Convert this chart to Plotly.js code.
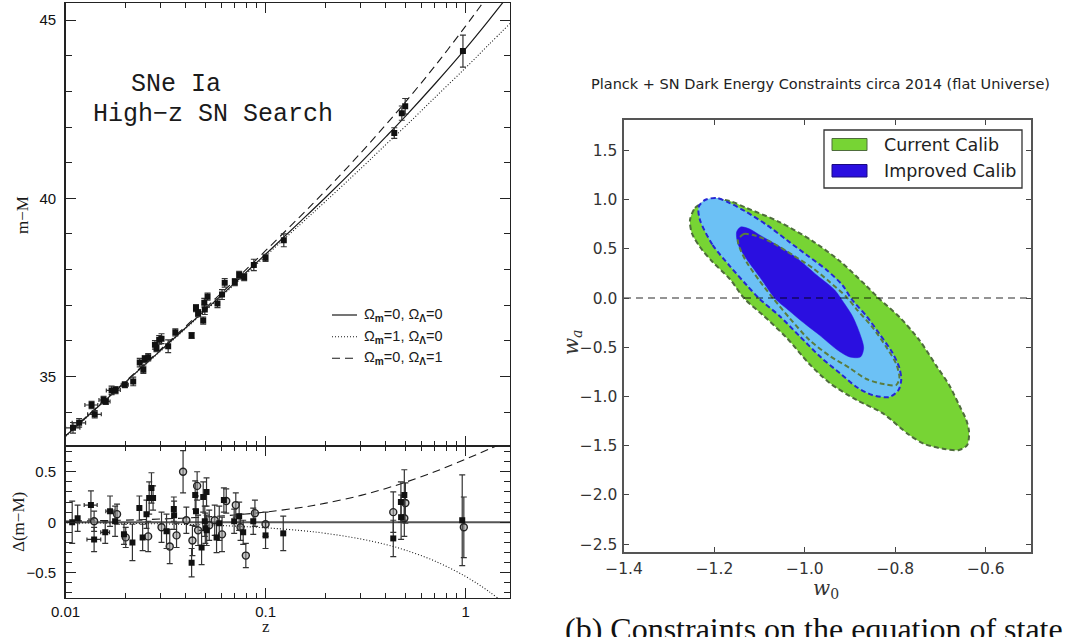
<!DOCTYPE html>
<html>
<head>
<meta charset="utf-8">
<script src="https://cdn.plot.ly/plotly-3.0.1.min.js"></script>
<style>html,body{margin:0;padding:0;background:#fff;}#chart{width:1073px;height:637px;}</style>
</head>
<body>
<div id="chart"></div>
<script>
// ---------- Left panel: Hubble diagram (High-z SN Search) ----------
const curveZ      = [0.0095, 0.01, 0.015, 0.02, 0.03, 0.05, 0.07, 0.1, 0.15, 0.2, 0.3, 0.4, 0.5, 0.7, 1.0, 1.3, 1.7];
const muOpen      = [33.22, 33.33, 34.22, 34.85, 35.74, 36.87, 37.62, 38.43, 39.36, 40.03, 41.01, 41.73, 42.30, 43.20, 44.20, 44.98, 45.81];
const muMatter    = [33.22, 33.32, 34.21, 34.84, 35.72, 36.84, 37.58, 38.38, 39.28, 39.92, 40.84, 41.51, 42.02, 42.82, 43.66, 44.30, 44.95];
const muLambda    = [33.23, 33.34, 34.24, 34.87, 35.77, 36.92, 37.69, 38.53, 39.51, 40.22, 41.28, 42.07, 42.70, 43.70, 44.83, 45.70, 46.63];
const resOpen     = [0, 0, 0, 0, 0, 0, 0, 0, 0, 0, 0, 0, 0, 0, 0, 0, 0];
const resMatter   = [-0.005, -0.005, -0.008, -0.011, -0.016, -0.027, -0.038, -0.055, -0.082, -0.110, -0.166, -0.221, -0.276, -0.383, -0.537, -0.682, -0.863];
const resLambda   = [0.010, 0.011, 0.016, 0.021, 0.032, 0.052, 0.072, 0.101, 0.146, 0.189, 0.266, 0.335, 0.396, 0.500, 0.625, 0.721, 0.821];

const snZ   = [0.0109, 0.0117, 0.0135, 0.0140, 0.0155, 0.0159, 0.0170, 0.0178, 0.0198, 0.0218, 0.0235, 0.0245, 0.0249, 0.0259, 0.0280, 0.0285, 0.0294, 0.0302, 0.0326, 0.0354, 0.0427, 0.0449, 0.0460, 0.0488, 0.0494, 0.0497, 0.0513, 0.0575, 0.0606, 0.0625, 0.0702, 0.0738, 0.0782, 0.0874, 0.1000, 0.1234, 0.440, 0.480, 0.499, 0.970];
const snMu  = [33.56, 33.70, 34.20, 33.94, 34.34, 34.30, 34.61, 34.62, 34.77, 34.86, 35.39, 35.19, 35.49, 35.54, 35.89, 35.80, 36.03, 36.06, 35.85, 36.24, 36.15, 36.92, 36.78, 36.57, 37.07, 36.88, 37.24, 37.05, 37.30, 37.63, 37.65, 37.85, 37.79, 38.13, 38.33, 38.82, 41.83, 42.39, 42.58, 44.13];
const snErr = [0.15, 0.12, 0.10, 0.10, 0.10, 0.08, 0.12, 0.10, 0.08, 0.12, 0.12, 0.10, 0.10, 0.10, 0.12, 0.10, 0.12, 0.14, 0.18, 0.10, 0.08, 0.10, 0.10, 0.10, 0.12, 0.14, 0.10, 0.12, 0.14, 0.12, 0.10, 0.10, 0.10, 0.16, 0.10, 0.18, 0.15, 0.20, 0.22, 0.45];
const snZErr = [0.0009, 0.0009, 0.0010, 0.0011, 0.0008, 0.0008, 0.0010, 0.0010, 0.0008, 0, 0, 0, 0, 0, 0, 0, 0, 0, 0, 0, 0, 0, 0, 0, 0, 0, 0, 0, 0, 0, 0, 0, 0, 0, 0, 0, 0, 0, 0, 0];

const mlcsZ   = [0.0108, 0.0115, 0.0134, 0.0139, 0.0158, 0.0167, 0.0177, 0.0196, 0.0216, 0.0234, 0.0243, 0.0254, 0.0262, 0.0269, 0.0274, 0.0320, 0.0348, 0.0349, 0.0427, 0.0445, 0.0449, 0.0479, 0.0488, 0.0497, 0.0500, 0.0507, 0.0508, 0.0569, 0.0587, 0.0619, 0.0697, 0.0738, 0.0773, 0.0868, 0.1000, 0.1226, 0.435, 0.475, 0.476, 0.494, 0.962];
const mlcsRes = [0.00, 0.04, 0.17, -0.17, -0.10, 0.11, 0.01, -0.12, -0.20, 0.14, -0.15, 0.08, 0.24, 0.34, 0.24, -0.09, 0.13, 0.07, -0.40, 0.27, 0.11, -0.25, 0.25, 0.01, -0.06, 0.30, -0.08, -0.15, -0.01, 0.22, 0.01, 0.06, -0.10, 0.01, -0.13, -0.11, -0.16, 0.20, 0.05, 0.27, 0.02];
const mlcsErr = [0.21, 0.13, 0.14, 0.12, 0.11, 0.15, 0.15, 0.10, 0.18, 0.12, 0.13, 0.14, 0.16, 0.15, 0.12, 0.17, 0.12, 0.14, 0.14, 0.14, 0.15, 0.17, 0.15, 0.15, 0.15, 0.14, 0.15, 0.15, 0.17, 0.12, 0.12, 0.14, 0.12, 0.13, 0.13, 0.17, 0.18, 0.20, 0.22, 0.25, 0.45];
const mlcsZErr = [0.0009, 0, 0.0010, 0.0011, 0.0008, 0.0008, 0, 0, 0, 0, 0, 0, 0, 0, 0, 0, 0, 0, 0, 0, 0, 0, 0, 0, 0, 0, 0, 0, 0, 0, 0, 0, 0, 0, 0, 0, 0, 0, 0, 0, 0];

const tfZ   = [0.0139, 0.0181, 0.0200, 0.0259, 0.0302, 0.0332, 0.0359, 0.0387, 0.0402, 0.0431, 0.0455, 0.0460, 0.0523, 0.0557, 0.0606, 0.0636, 0.0710, 0.0750, 0.0797, 0.0885, 0.1000, 0.435, 0.494, 0.500, 0.980];
const tfRes = [0.01, 0.08, -0.15, -0.14, -0.05, -0.24, -0.13, 0.50, 0.02, -0.18, 0.36, -0.08, -0.03, 0.02, -0.12, 0.21, 0.17, -0.05, -0.33, 0.09, -0.02, 0.10, 0.04, 0.19, -0.05];
const tfErr = [0.10, 0.10, 0.10, 0.15, 0.15, 0.17, 0.12, 0.21, 0.13, 0.15, 0.14, 0.15, 0.15, 0.15, 0.17, 0.12, 0.12, 0.13, 0.12, 0.13, 0.12, 0.20, 0.18, 0.20, 0.30];

const zTickVals  = [0.01, 0.1, 1];
const zTickText  = ['0.01', '0.1', '1'];
const zMinorVals = [0.02, 0.03, 0.04, 0.05, 0.06, 0.07, 0.08, 0.09, 0.2, 0.3, 0.4, 0.5, 0.6, 0.7, 0.8, 0.9];
const muTickVals = [35, 40, 45];
const resTickVals = [-0.5, 0, 0.5];
const resTickText = ['\u22120.5', '0', '0.5'];

// ---------- Right panel: w0-wa constraints ----------
const curOuterW0 = [-1.254, -1.243, -1.221, -1.197, -1.166, -1.129, -1.056, -0.983, -0.923, -0.866, -0.835, -0.791, -0.747, -0.709, -0.681, -0.659, -0.643, -0.637, -0.641, -0.659, -0.692, -0.736, -0.769, -0.829, -0.886, -0.945, -0.990, -1.040, -1.093, -1.133, -1.166, -1.204, -1.232, -1.250, -1.254];
const curOuterWa = [0.794, 0.916, 0.977, 1.007, 0.987, 0.916, 0.773, 0.580, 0.377, 0.133, -0.009, -0.192, -0.426, -0.690, -0.883, -1.086, -1.239, -1.360, -1.492, -1.543, -1.533, -1.482, -1.391, -1.167, -1.035, -0.863, -0.670, -0.405, -0.172, -0.009, 0.194, 0.367, 0.519, 0.662, 0.794];
const impOuterW0 = [-1.232, -1.204, -1.166, -1.129, -1.100, -1.056, -1.012, -0.963, -0.923, -0.886, -0.851, -0.813, -0.793, -0.787, -0.791, -0.806, -0.835, -0.864, -0.897, -0.917, -0.952, -0.996, -1.040, -1.084, -1.129, -1.166, -1.195, -1.221, -1.235, -1.232];
const impOuterWa = [0.794, 0.540, 0.326, 0.133, -0.009, -0.182, -0.385, -0.609, -0.761, -0.903, -0.985, -1.005, -0.934, -0.832, -0.710, -0.558, -0.365, -0.182, -0.009, 0.133, 0.286, 0.438, 0.590, 0.743, 0.875, 0.966, 1.017, 0.997, 0.926, 0.794];
const impInnerW0 = [-1.151, -1.142, -1.122, -1.100, -1.062, -1.018, -0.974, -0.934, -0.915, -0.895, -0.879, -0.870, -0.877, -0.901, -0.928, -0.968, -1.005, -1.034, -1.065, -1.100, -1.129, -1.148, -1.151];
const impInnerWa = [0.672, 0.723, 0.702, 0.641, 0.540, 0.408, 0.235, 0.082, -0.040, -0.182, -0.355, -0.507, -0.598, -0.598, -0.527, -0.375, -0.243, -0.131, -0.009, 0.215, 0.397, 0.550, 0.672];
const curInnerW0 = [-1.148, -1.135, -1.107, -1.071, -1.027, -0.983, -0.945, -0.908, -0.886, -0.851, -0.820, -0.798, -0.791, -0.798, -0.826, -0.864, -0.901, -0.945, -0.990, -1.034, -1.069, -1.100, -1.129, -1.144, -1.148];
const curInnerWa = [0.590, 0.651, 0.631, 0.560, 0.438, 0.306, 0.164, 0.011, -0.111, -0.294, -0.497, -0.670, -0.812, -0.883, -0.873, -0.822, -0.710, -0.588, -0.426, -0.202, -0.009, 0.174, 0.367, 0.509, 0.590];
const lcdmW0 = [-1.4, -0.5];
const lcdmWa = [0, 0];
const w0TickVals = [-1.4, -1.2, -1.0, -0.8, -0.6];
const waTickVals = [-2.5, -2.0, -1.5, -1.0, -0.5, 0.0, 0.5, 1.0, 1.5];
const legendLabels = ['Current Calib', 'Improved Calib'];

// ---------- helpers ----------
const W = 1073, H = 637;
const px = x => x / W;
const py = y => 1 - y / H;

const GREEN = '#77d434', GREEN_EDGE = '#4e6d3b', LBLUE = '#6cc1f5', BLUE_EDGE = '#2626d4', DBLUE = '#2a0fe0', OLIVE = '#5a7c3e';
const ink = '#1a1a1a';

function errY(arr) { return {type: 'data', array: arr, visible: true, color: '#333', thickness: 1.2, width: 3}; }
function errX(arr) { return {type: 'data', array: arr, visible: true, color: '#333', thickness: 1.2, width: 2}; }

const traces = [
  {x: curveZ, y: muOpen, xaxis: 'x', yaxis: 'y', mode: 'lines', line: {color: ink, width: 1.2, shape: 'spline'}},
  {x: curveZ, y: muMatter, xaxis: 'x', yaxis: 'y', mode: 'lines', line: {color: ink, width: 1.1, dash: '1px,2px', shape: 'spline'}},
  {x: curveZ, y: muLambda, xaxis: 'x', yaxis: 'y', mode: 'lines', line: {color: ink, width: 1.1, dash: '8px,5px', shape: 'spline'}},
  {x: snZ, y: snMu, xaxis: 'x', yaxis: 'y', mode: 'markers', marker: {symbol: 'square', size: 6, color: '#111'}, error_y: errY(snErr), error_x: errX(snZErr)},
  {x: curveZ, y: resOpen, xaxis: 'x2', yaxis: 'y2', mode: 'lines', line: {color: '#555', width: 1.8}},
  {x: curveZ, y: resMatter, xaxis: 'x2', yaxis: 'y2', mode: 'lines', line: {color: ink, width: 1.1, dash: '1px,2px', shape: 'spline'}},
  {x: curveZ, y: resLambda, xaxis: 'x2', yaxis: 'y2', mode: 'lines', line: {color: ink, width: 1.1, dash: '8px,5px', shape: 'spline'}},
  {x: tfZ, y: tfRes, xaxis: 'x2', yaxis: 'y2', mode: 'markers', marker: {symbol: 'circle', size: 7, color: 'rgba(150,150,150,0.55)', line: {color: '#222', width: 1.4}}, error_y: errY(tfErr)},
  {x: mlcsZ, y: mlcsRes, xaxis: 'x2', yaxis: 'y2', mode: 'markers', marker: {symbol: 'square', size: 6, color: '#111'}, error_y: errY(mlcsErr), error_x: errX(mlcsZErr)},
  {x: curOuterW0, y: curOuterWa, xaxis: 'x3', yaxis: 'y3', mode: 'lines', fill: 'toself', fillcolor: GREEN, line: {color: GREEN_EDGE, width: 2, dash: '5px,3px', shape: 'spline', smoothing: 0.8}, name: legendLabels[0]},
  {x: impOuterW0, y: impOuterWa, xaxis: 'x3', yaxis: 'y3', mode: 'lines', fill: 'toself', fillcolor: LBLUE, line: {color: BLUE_EDGE, width: 2, dash: '5px,3px', shape: 'spline', smoothing: 0.8}},
  {x: impInnerW0, y: impInnerWa, xaxis: 'x3', yaxis: 'y3', mode: 'lines', fill: 'toself', fillcolor: DBLUE, line: {color: DBLUE, width: 0.5, shape: 'spline', smoothing: 0.8}, name: legendLabels[1]},
  {x: curInnerW0, y: curInnerWa, xaxis: 'x3', yaxis: 'y3', mode: 'lines', line: {color: OLIVE, width: 2, dash: '5px,3px', shape: 'spline', smoothing: 0.8}},
  {x: lcdmW0, y: lcdmWa, xaxis: 'x3', yaxis: 'y3', mode: 'lines', line: {color: 'rgba(0,0,0,0.42)', width: 2, dash: '7px,5px'}}
];

const leftTickFont = {family: 'Liberation Sans, Arial, sans-serif', size: 15, color: '#111'};
const rightTickFont = {family: 'DejaVu Sans, sans-serif', size: 15.5, color: '#333'};

const baseLeftX = {
  type: 'log', range: [-2, 0.222], tickmode: 'array', tickvals: zTickVals, ticktext: zTickText,
  ticks: 'inside', ticklen: 10, tickwidth: 1.2, tickcolor: '#222', mirror: 'ticks',
  showline: true, linecolor: '#222', linewidth: 1.3, showgrid: false, zeroline: false,
  minor: {tickmode: 'array', tickvals: zMinorVals, ticks: 'inside', ticklen: 5, tickwidth: 1, tickcolor: '#222', showgrid: false},
  tickfont: leftTickFont, ticklabelstandoff: 0
};

const layout = {
  width: W, height: H, margin: {l: 0, r: 0, t: 0, b: 0},
  paper_bgcolor: '#ffffff', plot_bgcolor: 'rgba(0,0,0,0)', showlegend: false,
  xaxis: Object.assign({}, baseLeftX, {domain: [px(65.5), px(510)], anchor: 'y', showticklabels: false}),
  xaxis2: Object.assign({}, baseLeftX, {domain: [px(65.5), px(510)], anchor: 'y2', showticklabels: true}),
  yaxis: {
    domain: [py(446), py(3)], anchor: 'x', range: [33.05, 45.48], tickmode: 'array', tickvals: muTickVals,
    ticks: 'inside', ticklen: 10, tickwidth: 1.2, tickcolor: '#222', mirror: 'ticks',
    showline: true, linecolor: '#222', linewidth: 1.3, showgrid: false, zeroline: false,
    minor: {dtick: 1, tick0: 0, ticks: 'inside', ticklen: 6, tickwidth: 1, tickcolor: '#222', showgrid: false},
    tickfont: leftTickFont, ticklabelstandoff: 5
  },
  yaxis2: {
    domain: [py(598), py(446)], anchor: 'x2', range: [-0.75, 0.755], tickmode: 'array', tickvals: resTickVals, ticktext: resTickText,
    ticks: 'inside', ticklen: 10, tickwidth: 1.2, tickcolor: '#222', mirror: 'ticks',
    showline: true, linecolor: '#222', linewidth: 1.3, showgrid: false, zeroline: false,
    minor: {dtick: 0.1, tick0: 0, ticks: 'inside', ticklen: 6, tickwidth: 1, tickcolor: '#222', showgrid: false},
    tickfont: leftTickFont, ticklabelstandoff: 5
  },
  xaxis3: {
    domain: [px(624), px(1031)], anchor: 'y3', range: [-1.4, -0.5], tickmode: 'array', tickvals: w0TickVals, tickformat: '.1f',
    ticks: 'inside', ticklen: 5, tickwidth: 1, tickcolor: '#444', mirror: 'ticks',
    showline: true, linecolor: '#555', linewidth: 1.6, showgrid: false, zeroline: false,
    tickfont: rightTickFont, ticklabelstandoff: 2
  },
  yaxis3: {
    domain: [py(552), py(120)], anchor: 'x3', range: [-2.58, 1.81], tickmode: 'array', tickvals: waTickVals, tickformat: '.1f',
    ticks: 'inside', ticklen: 5, tickwidth: 1, tickcolor: '#444', mirror: 'ticks',
    showline: true, linecolor: '#555', linewidth: 1.6, showgrid: false, zeroline: false,
    tickfont: rightTickFont, ticklabelstandoff: 2
  },
  shapes: [
    {type: 'line', xref: 'paper', yref: 'paper', x0: px(332), x1: px(357), y0: py(315), y1: py(315), line: {color: ink, width: 1.2}},
    {type: 'line', xref: 'paper', yref: 'paper', x0: px(332), x1: px(357), y0: py(336.7), y1: py(336.7), line: {color: ink, width: 1.1, dash: '1px,2px'}},
    {type: 'line', xref: 'paper', yref: 'paper', x0: px(332), x1: px(357), y0: py(358.3), y1: py(358.3), line: {color: ink, width: 1.1, dash: '8px,5px'}},
    {type: 'rect', xref: 'paper', yref: 'paper', x0: px(824), x1: px(1022), y0: py(188), y1: py(130), fillcolor: '#ffffff', line: {color: '#333', width: 1.3}},
    {type: 'rect', xref: 'paper', yref: 'paper', x0: px(832), x1: px(867), y0: py(150.5), y1: py(138.5), fillcolor: GREEN, line: {color: GREEN_EDGE, width: 1}},
    {type: 'rect', xref: 'paper', yref: 'paper', x0: px(832), x1: px(867), y0: py(177), y1: py(164.5), fillcolor: DBLUE, line: {color: '#1a0a80', width: 1}}
  ],
  annotations: []
};

function ann(text, x, y, opts) {
  layout.annotations.push(Object.assign({text: text, x: px(x), y: py(y), xref: 'paper', yref: 'paper', showarrow: false, xanchor: 'center', yanchor: 'middle'}, opts || {}));
}
const serif = 'Liberation Serif, Times New Roman, serif';
ann('m\u2212M', 22, 215, {textangle: -90, font: {family: serif, size: 17, color: ink}});
ann('\u0394(m\u2212M)', 18, 522, {textangle: -90, font: {family: serif, size: 17, color: ink}});
ann('z', 265.5, 626.5, {font: {family: serif, size: 17, color: ink}});
ann('SNe Ia', 176, 85, {font: {family: 'Liberation Mono, Courier New, monospace', size: 25, color: ink}});
ann('High\u2212z SN Search', 213, 114, {font: {family: 'Liberation Mono, Courier New, monospace', size: 25, color: ink}});
const legFont = {family: 'Liberation Sans, Arial, sans-serif', size: 14.5, color: ink};
ann('\u03A9<sub><b>m</b></sub>=0, \u03A9<sub><b>\u039B</b></sub>=0', 362, 315, {xanchor: 'left', font: legFont});
ann('\u03A9<sub><b>m</b></sub>=1, \u03A9<sub><b>\u039B</b></sub>=0', 362, 336.7, {xanchor: 'left', font: legFont});
ann('\u03A9<sub><b>m</b></sub>=0, \u03A9<sub><b>\u039B</b></sub>=1', 362, 358.3, {xanchor: 'left', font: legFont});
ann('Planck + SN Dark Energy Constraints circa 2014 (flat Universe)', 820, 84, {font: {family: 'DejaVu Sans, sans-serif', size: 14.5, color: '#222'}});
ann(legendLabels[0], 882, 145, {xanchor: 'left', font: {family: 'DejaVu Sans, sans-serif', size: 17.5, color: '#222'}});
ann(legendLabels[1], 882, 170.5, {xanchor: 'left', font: {family: 'DejaVu Sans, sans-serif', size: 17.5, color: '#222'}});
ann('<i>w</i><sub><i>a</i></sub>', 572, 343, {textangle: -90, font: {family: 'DejaVu Serif, serif', size: 20, color: '#333'}});
ann('<i>w</i><sub>0</sub>', 826, 589, {font: {family: 'DejaVu Serif, serif', size: 20, color: '#333'}});
ann('(b) Constraints on the equation of state', 563, 629, {xanchor: 'left', font: {family: serif, size: 32, color: '#111'}});

Plotly.newPlot('chart', traces, layout, {staticPlot: true, displayModeBar: false});
</script>
</body>
</html>
